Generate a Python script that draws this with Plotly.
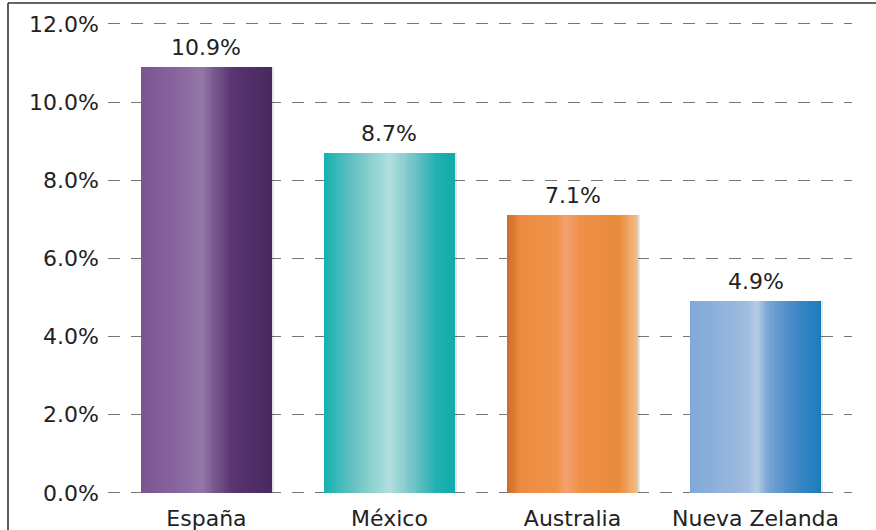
import plotly.graph_objects as go

# ---- data ----
categories = ["España", "México", "Australia", "Nueva Zelanda"]
values = [10.9, 8.7, 7.1, 4.9]
value_labels = ["10.9%", "8.7%", "7.1%", "4.9%"]
y_tick_values = [0, 2, 4, 6, 8, 10, 12]
y_tick_labels = ["0.0%", "2.0%", "4.0%", "6.0%", "8.0%", "10.0%", "12.0%"]

# ---- style: horizontal gradient stops per bar (fraction, colour) ----
gradients = [
    [(0.0, "#7a5590"), (0.30, "#8a66a0"), (0.47, "#9479a8"), (0.55, "#7a5b90"),
     (0.70, "#5a3470"), (1.0, "#46285f")],
    [(0.0, "#14b0b0"), (0.20, "#5fc0c0"), (0.50, "#b4dede"), (0.70, "#6ac2c4"),
     (0.86, "#20b0b0"), (1.0, "#10aaaa")],
    [(0.0, "#cc6a2a"), (0.10, "#ec8c40"), (0.38, "#f0924a"), (0.45, "#f2a372"),
     (0.55, "#f09048"), (0.85, "#e88a3c"), (1.0, "#f4c08a")],
    [(0.0, "#80a8d8"), (0.44, "#a0bcde"), (0.51, "#b6cde4"), (0.60, "#78a4d4"),
     (0.76, "#4a8cc8"), (1.0, "#1a7bbb")],
]

def hex2rgb(h):
    h = h.lstrip("#")
    return tuple(int(h[i:i + 2], 16) for i in (0, 2, 4))

def interp(stops, t):
    for (t0, c0), (t1, c1) in zip(stops[:-1], stops[1:]):
        if t0 <= t <= t1:
            f = 0 if t1 == t0 else (t - t0) / (t1 - t0)
            a, b = hex2rgb(c0), hex2rgb(c1)
            r = [round(a[i] + (b[i] - a[i]) * f) for i in range(3)]
            return f"rgb({r[0]},{r[1]},{r[2]})"
    return stops[-1][1]

N_SLICES = 60
BAR_W = 0.716
FONT = "DejaVu Sans, Liberation Sans, Arial, sans-serif"
FS = 22
TXT = "#222222"

W, H = 876, 530
ML, MR, MT, MB = 108, 24, 22, 32.4
PW, PH = W - ML - MR, H - MT - MB

fig = go.Figure()

# subtle shadow to the right of each bar
fig.add_trace(go.Bar(
    x=categories, y=values, width=BAR_W, offset=-BAR_W / 2 + 0.012,
    marker=dict(color="rgba(0,0,0,0.10)", line=dict(width=0)),
    hoverinfo="skip", showlegend=False,
))

slice_w = BAR_W / N_SLICES
for k in range(N_SLICES):
    t = (k + 0.5) / N_SLICES
    fig.add_trace(go.Bar(
        x=categories, y=values,
        width=slice_w * 1.6 if k < N_SLICES - 1 else slice_w,
        offset=-BAR_W / 2 + k * slice_w,
        marker=dict(color=[interp(g, t) for g in gradients], line=dict(width=0)),
        hoverinfo="skip", showlegend=False,
    ))

for c, v, lab in zip(categories, values, value_labels):
    fig.add_annotation(x=c, y=v, text=lab, showarrow=False, yanchor="bottom",
                       yshift=5, font=dict(family=FONT, size=FS, color=TXT))

# frame lines (top and left), positioned in pixels relative to the plot area
top_y = (H - 3 - MB) / PH
left_x = (8 - ML) / PW
fig.add_shape(type="line", xref="paper", yref="paper", x0=left_x, x1=(W - ML + 5) / PW,
              y0=top_y, y1=top_y, line=dict(color="#333333", width=1.6))
fig.add_shape(type="line", xref="paper", yref="paper", x0=left_x, x1=left_x,
              y0=-MB / PH - 0.02, y1=top_y, line=dict(color="#333333", width=1.6))

fig.update_layout(
    width=W, height=H,
    margin=dict(l=ML, r=MR, t=MT, b=MB, pad=0),
    paper_bgcolor="white", plot_bgcolor="white",
    barmode="overlay", bargap=0,
    showlegend=False,
    font=dict(family=FONT, size=FS, color=TXT),
    xaxis=dict(
        type="category", categoryorder="array", categoryarray=categories,
        range=[-0.538, 3.527], showgrid=False, zeroline=False, showline=False,
        ticks="", ticklabelstandoff=5, tickfont=dict(size=FS, color=TXT),
        automargin=False,
    ),
    yaxis=dict(
        range=[-0.13, 12.05], tickvals=y_tick_values, ticktext=y_tick_labels,
        showgrid=True, gridcolor="#767676", gridwidth=1.3, griddash="12px,11px",
        zeroline=False, showline=False, ticks="", ticklabelstandoff=8,
        tickfont=dict(size=FS, color=TXT), automargin=False,
    ),
)

fig.write_html(
    "out.html",
    config={"displayModeBar": False},
    post_script="document.body.style.margin='0';document.body.style.overflow='hidden';",
)
